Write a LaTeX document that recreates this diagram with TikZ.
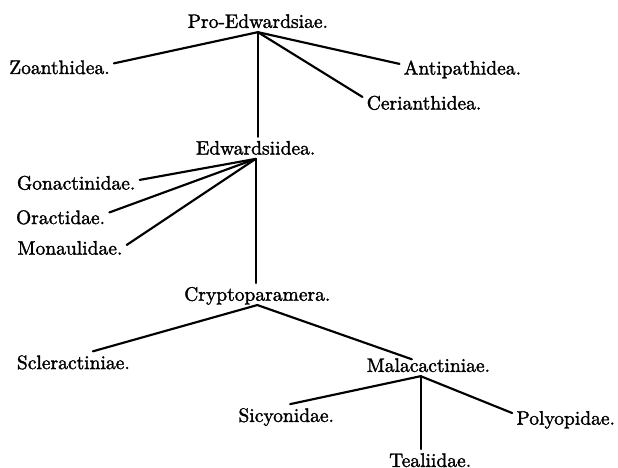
\documentclass[tikz,border=0pt]{standalone}
\usepackage{fontspec}
\setmainfont{Latin Modern Roman}[FakeBold=1.6]
\usepackage{tikz}

\begin{document}
\begin{tikzpicture}[
    every node/.style={font=\normalsize},
    taxon/.style={inner sep=2pt, text height=1.6ex, text depth=0pt},
    branch/.style={line width=1.1pt, line cap=round}]
  \useasboundingbox (0,0) rectangle (11.12,-8.42);
  % root and first split
  \node[taxon] (pro) at (4.64,-0.38) {Pro-Edwardsiae.};
  \node[taxon] (zoa) at (1.07,-1.21) {Zoanthidea.};
  \node[taxon] (ant) at (8.32,-1.22) {Antipathidea.};
  \node[taxon] (cer) at (7.63,-1.85) {Cerianthidea.};
  \node[taxon] (edw) at (4.60,-2.66) {Edwardsiidea.};
  % Edwardsiidea branch
  \node[taxon] (gon) at (1.37,-3.29) {Gonactinidae.};
  \node[taxon] (ora) at (1.09,-3.91) {Oractidae.};
  \node[taxon] (mon) at (1.26,-4.46) {Monaulidae.};
  \node[taxon] (cry) at (4.63,-5.29) {Cryptoparamera.};
  % lower split
  \node[taxon] (scl) at (1.32,-6.52) {Scleractiniae.};
  \node[taxon] (mal) at (7.71,-6.57) {Malacactiniae.};
  \node[taxon] (sic) at (5.15,-7.47) {Sicyonidae.};
  \node[taxon] (pol) at (10.18,-7.52) {Polyopidae.};
  \node[taxon] (tea) at (7.74,-8.28) {Tealiidae.};
  \coordinate (mhub) at ([xshift=-4pt]mal.south);

  \draw[branch] (pro.south) -- ([yshift=2pt]zoa.east);
  \draw[branch] (pro.south) -- ([yshift=2pt]ant.west);
  \draw[branch] (pro.south) -- ([yshift=3pt]cer.west);
  \draw[branch] (pro.south) -- (pro.south |- edw.north);
  \draw[branch] (edw.south) -- ([yshift=1.5pt]gon.east);
  \draw[branch] (edw.south) -- ([yshift=2.5pt]ora.east);
  \draw[branch] (edw.south) -- ([yshift=1.5pt]mon.east);
  \draw[branch] (edw.south) -- (edw.south |- cry.north);
  \draw[branch] (cry.south) -- ([xshift=10pt]scl.north);
  \draw[branch] (cry.south) -- ([shift={(-8.5pt,3pt)}]mal.center);
  \draw[branch] (mhub) -- ([xshift=2pt]sic.north);
  \draw[branch] (mhub) -- (mhub |- tea.north);
  \draw[branch] (mhub) -- ([yshift=2.5pt]pol.west);
\end{tikzpicture}
\end{document}
